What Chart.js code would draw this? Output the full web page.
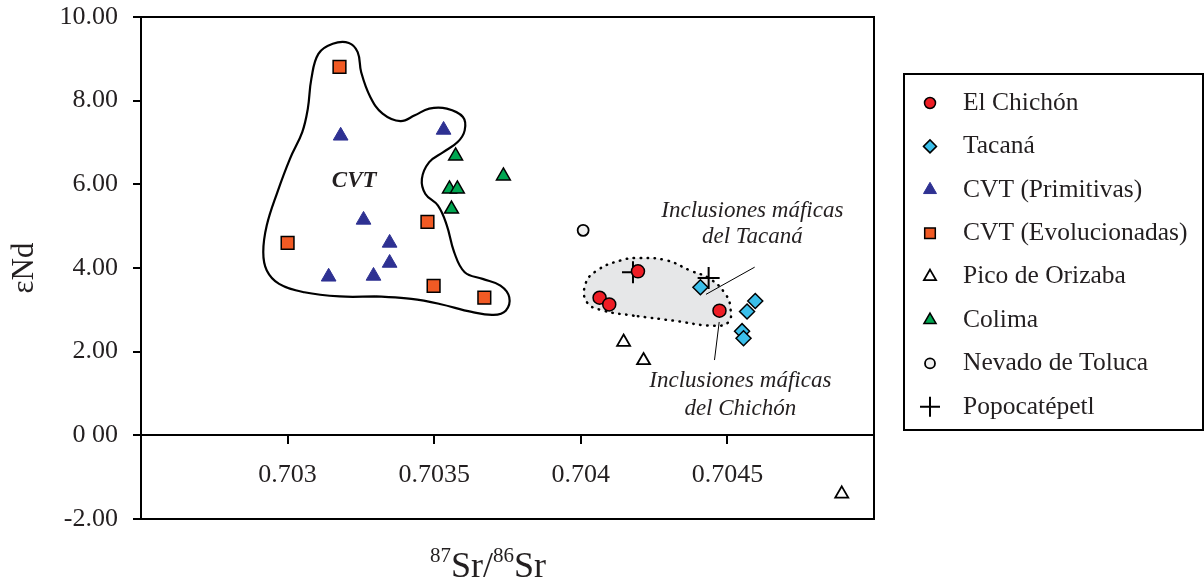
<!DOCTYPE html>
<html>
<head>
<meta charset="utf-8">
<script src="https://cdn.jsdelivr.net/npm/chart.js@4.4.1/dist/chart.umd.min.js"></script>
<style>
  html, body { margin: 0; padding: 0; background: #ffffff; }
  #wrap { width: 1204px; height: 582px; }
</style>
</head>
<body>
<div id="wrap"><canvas id="srNdChart" width="1204" height="582"></canvas></div>
<script>
Chart.defaults.font.family = "'Liberation Serif', 'Times New Roman', serif";
Chart.defaults.color = "#231F20";

const X_MIN = 0.7025;
const X_MAX = 0.705;
const xTickValues = [0.703, 0.7035, 0.704, 0.7045];
const xTickLabels = ["0.703", "0.7035", "0.704", "0.7045"];
const yTickValues = [-2, 0, 2, 4, 6, 8, 10];
const yTickLabels = ["-2.00", "0 00", "2.00", "4.00", "6.00", "8.00", "10.00"];

// series values (87Sr/86Sr, eNd)
const chichonSr = [0.704195, 0.704064, 0.704097, 0.704473];
const chichonNd = [3.92, 3.29, 3.13, 2.98];

const tacanaSr = [0.704408, 0.704595, 0.704567, 0.70455, 0.704555];
const tacanaNd = [3.54, 3.21, 2.96, 2.49, 2.32];

const cvtPrimSr = [0.703181, 0.703532, 0.703259, 0.703348, 0.703348, 0.70314, 0.703293];
const cvtPrimNd = [7.16, 7.3, 5.15, 4.6, 4.12, 3.79, 3.81];

const cvtEvolSr = [0.703177, 0.703, 0.703477, 0.703498, 0.703671];
const cvtEvolNd = [8.81, 4.6, 5.1, 3.57, 3.29];

const orizabaSr = [0.704146, 0.704214, 0.70489];
const orizabaNd = [2.23, 1.79, -1.4];

const colimaSr = [0.703573, 0.703552, 0.703579, 0.703559, 0.703736];
const colimaNd = [6.68, 5.89, 5.89, 5.41, 6.2];

const tolucaSr = [0.704008];
const tolucaNd = [4.9];

const popoSr = [0.704178, 0.704436];
const popoNd = [3.9, 3.76];

// outline of the CVT field (starts on the flat bottom, last point closes it)
const cvtFieldSr = [
  0.7033, 0.703178, 0.703057, 0.702971, 0.702929, 0.702917, 0.702929, 0.702965,
  0.703008, 0.70305, 0.703069, 0.703081, 0.703105, 0.703154, 0.703209, 0.703239,
  0.703251, 0.703282, 0.703324, 0.703385, 0.703434, 0.703483, 0.703543, 0.703598,
  0.703604, 0.70358, 0.703531, 0.703483, 0.703458, 0.70347, 0.703513, 0.703543,
  0.703568, 0.703604, 0.703665, 0.703726, 0.703756, 0.703744, 0.703702, 0.703628,
  0.703519, 0.703422, 0.7033,
];
const cvtFieldNd = [
  3.32, 3.32, 3.42, 3.62, 3.94, 4.38, 5.02, 5.81,
  6.61, 7.25, 7.81, 8.52, 9.12, 9.36, 9.38, 9.16,
  8.68, 8.09, 7.69, 7.51, 7.65, 7.81, 7.81, 7.61,
  7.29, 7.01, 6.77, 6.53, 6.13, 5.77, 5.49, 5.02,
  4.38, 3.9, 3.74, 3.58, 3.3, 2.98, 2.88, 2.95,
  3.14, 3.26, 3.32,
];

// dotted field of the mafic inclusions
const inclFieldSr = [
  0.70418, 0.704078, 0.704021, 0.704016, 0.704055, 0.704135, 0.704203, 0.704294,
  0.704373, 0.704441, 0.704493, 0.70451, 0.704504, 0.704453, 0.704317, 0.70418,
];
const inclFieldNd = [
  2.86, 2.98, 3.18, 3.62, 3.94, 4.18, 4.24, 4.18,
  3.94, 3.74, 3.38, 3.06, 2.71, 2.62, 2.74, 2.86,
];

// leader lines of the two notes
const tacanaLeaderSr = [0.704593, 0.704427];
const tacanaLeaderNd = [4.02, 3.37];
const chichonLeaderSr = [0.704472, 0.704456];
const chichonLeaderNd = [2.71, 1.8];

// notes written on the plot
const noteText = ["Inclusiones máficas", "del Tacaná", "Inclusiones máficas", "del Chichón"];
const noteSr = [0.704585, 0.704585, 0.704544, 0.704544];
const noteNd = [5.37, 4.75, 1.3, 0.63];
const fieldLabel = "CVT";
const fieldLabelSr = 0.703227;
const fieldLabelNd = 6.07;

const legendLabels = [
  "El Chichón",
  "Tacaná",
  "CVT (Primitivas)",
  "CVT (Evolucionadas)",
  "Pico de Orizaba",
  "Colima",
  "Nevado de Toluca",
  "Popocatépetl",
];

const toPoints = (xs, ys) => xs.map((x, i) => ({ x: x, y: ys[i] }));

const markerSet = (label, xs, ys, style, radius, fill, border, borderWidth) => ({
  label: label,
  data: toPoints(xs, ys),
  pointStyle: style,
  pointRadius: radius,
  pointHoverRadius: radius,
  pointBackgroundColor: fill,
  pointBorderColor: border,
  pointBorderWidth: borderWidth,
  showLine: false,
  order: 1,
});

const lineSet = (xs, ys, extra) =>
  Object.assign(
    {
      label: "",
      type: "line",
      data: toPoints(xs, ys),
      pointRadius: 0,
      pointHoverRadius: 0,
      borderColor: "#000000",
      borderWidth: 1,
      fill: false,
      tension: 0,
      order: 5,
    },
    extra,
  );

const pointSets = [
  markerSet(legendLabels[0], chichonSr, chichonNd, "circle", 6.5, "#EE1D25", "#000000", 1.5),
  markerSet(legendLabels[1], tacanaSr, tacanaNd, "rectRot", 7.5, "#3BBFEA", "#000000", 1.5),
  markerSet(legendLabels[2], cvtPrimSr, cvtPrimNd, "triangle", 8.5, "#2E3192", "#2E3192", 1),
  markerSet(legendLabels[3], cvtEvolSr, cvtEvolNd, "rect", 9, "#F15A24", "#000000", 1.5),
  markerSet(legendLabels[4], orizabaSr, orizabaNd, "triangle", 7.5, "#FFFFFF", "#000000", 1.8),
  markerSet(legendLabels[5], colimaSr, colimaNd, "triangle", 8, "#00A651", "#000000", 1.5),
  markerSet(legendLabels[6], tolucaSr, tolucaNd, "circle", 5.5, "#F1F1F1", "#000000", 1.8),
  markerSet(legendLabels[7], popoSr, popoNd, "cross", 11, "#000000", "#000000", 2),
];

const legendRadius = [5.5, 6.5, 7.5, 7.5, 7, 7, 5, 10];

const datasets = [
  lineSet(inclFieldSr, inclFieldNd, {
    backgroundColor: "#E6E7E8",
    fill: "shape",
    borderWidth: 2.5,
    borderDash: [0.5, 6.5],
    borderCapStyle: "round",
    tension: 0.45,
    order: 9,
  }),
  lineSet(cvtFieldSr, cvtFieldNd, { borderWidth: 2.2, tension: 0.4 }),
  lineSet(tacanaLeaderSr, tacanaLeaderNd, {}),
  lineSet(chichonLeaderSr, chichonLeaderNd, {}),
  ...pointSets,
];

const plotDecor = {
  id: "plotDecor",
  afterDraw(chart) {
    const { ctx, chartArea, scales } = chart;
    const xs = scales.x;
    const ys = scales.y;
    ctx.save();

    // frame round the plot area
    ctx.strokeStyle = "#000000";
    ctx.lineWidth = 2;
    ctx.strokeRect(chartArea.left, chartArea.top, chartArea.right - chartArea.left, chartArea.bottom - chartArea.top);

    // notes
    ctx.fillStyle = "#231F20";
    ctx.textAlign = "center";
    ctx.textBaseline = "middle";
    ctx.font = "italic 23px 'Liberation Serif', serif";
    noteText.forEach((t, i) => {
      ctx.fillText(t, xs.getPixelForValue(noteSr[i]), ys.getPixelForValue(noteNd[i]));
    });
    ctx.font = "italic bold 23px 'Liberation Serif', serif";
    ctx.fillText(fieldLabel, xs.getPixelForValue(fieldLabelSr), ys.getPixelForValue(fieldLabelNd));

    // x axis title with superscripts
    const big = "36px 'Liberation Serif', serif";
    const small = "21px 'Liberation Serif', serif";
    const parts = [["87", small, -15], ["Sr/", big, 0], ["86", small, -15], ["Sr", big, 0]];
    let w = 0;
    parts.forEach((p) => { ctx.font = p[1]; w += ctx.measureText(p[0]).width; });
    let cx = 488 - w / 2;
    const baseY = 577;
    ctx.textAlign = "left";
    ctx.textBaseline = "alphabetic";
    parts.forEach((p) => {
      ctx.font = p[1];
      ctx.fillText(p[0], cx, baseY + p[2]);
      cx += ctx.measureText(p[0]).width;
    });

    // legend box
    const boxLeft = 904, boxTop = 74, boxRight = 1203, boxBottom = 430;
    ctx.lineWidth = 2;
    ctx.strokeStyle = "#000000";
    ctx.strokeRect(boxLeft, boxTop, boxRight - boxLeft, boxBottom - boxTop);
    ctx.font = "25.5px 'Liberation Serif', serif";
    ctx.textBaseline = "middle";
    pointSets.forEach((ds, i) => {
      const rowY = 103 + i * 43.4;
      ctx.fillStyle = ds.pointBackgroundColor;
      ctx.strokeStyle = ds.pointBorderColor;
      ctx.lineWidth = ds.pointBorderWidth;
      Chart.helpers.drawPoint(ctx, {
        pointStyle: ds.pointStyle,
        radius: legendRadius[i],
        borderWidth: ds.pointBorderWidth,
        rotation: 0,
      }, 930, rowY);
      ctx.fillStyle = "#231F20";
      ctx.fillText(ds.label, 963, rowY);
    });
    ctx.restore();
  },
};

const ctx = document.getElementById("srNdChart");

new Chart(ctx, {
  type: "scatter",
  data: { datasets: datasets },
  options: {
    responsive: false,
    animation: false,
    events: [],
    layout: {
      padding: { left: 0, right: 330, top: 17, bottom: 63 },
    },
    scales: {
      x: {
        type: "linear",
        min: X_MIN,
        max: X_MAX,
        position: { y: 0 },
        afterBuildTicks: (scale) => {
          scale.ticks = xTickValues.map((v) => ({ value: v }));
        },
        ticks: {
          font: { size: 26 },
          color: "#231F20",
          padding: 16,
          maxRotation: 0,
          callback: (value) => {
            const i = xTickValues.indexOf(value);
            return i >= 0 ? xTickLabels[i] : "";
          },
        },
        grid: {
          drawOnChartArea: false,
          drawTicks: true,
          tickLength: 8,
          color: "#000000",
          lineWidth: 2,
        },
        border: { display: true, color: "#000000", width: 2 },
      },
      y: {
        type: "linear",
        min: -2,
        max: 10,
        afterFit: (scale) => {
          // fixed axis width, and no extra room for the end labels
          scale.width = 141;
          scale.paddingTop = 0;
          scale.paddingBottom = 0;
        },
        afterBuildTicks: (scale) => {
          scale.ticks = yTickValues.map((v) => ({ value: v }));
        },
        ticks: {
          font: { size: 26 },
          color: "#231F20",
          padding: 15,
          callback: (value) => {
            const i = yTickValues.indexOf(value);
            return i >= 0 ? yTickLabels[i] : "";
          },
        },
        grid: {
          drawOnChartArea: false,
          drawTicks: true,
          tickLength: 8,
          color: "#000000",
          lineWidth: 2,
        },
        border: { display: true, color: "#000000", width: 2 },
        title: {
          display: true,
          text: "εNd",
          font: { size: 31 },
          color: "#231F20",
          padding: { top: 6, bottom: 0 },
        },
      },
    },
    plugins: {
      legend: { display: false },
      tooltip: { enabled: false },
    },
  },
  plugins: [plotDecor],
});
</script>
</body>
</html>
